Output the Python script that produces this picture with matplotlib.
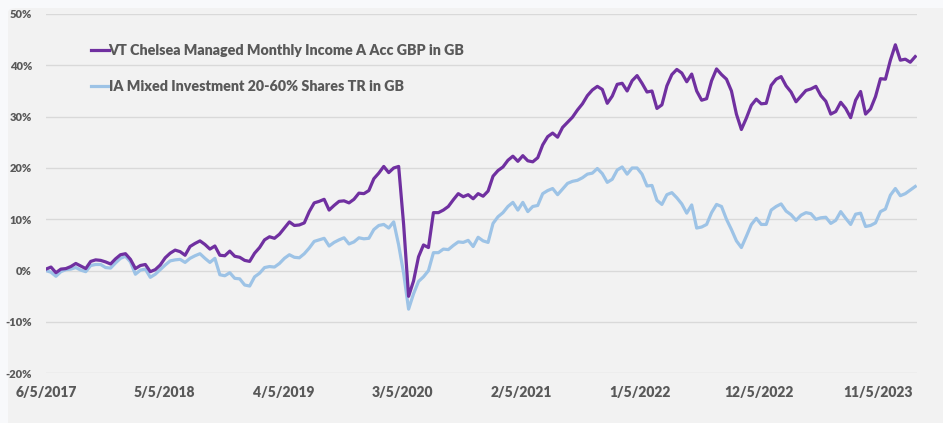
import matplotlib
matplotlib.use("Agg")
import matplotlib.pyplot as plt
from matplotlib.patches import FancyBboxPatch
from matplotlib.font_manager import FontProperties
import pandas as pd

start_date = "2017-06-05"
series_names = ["VT Chelsea Managed Monthly Income A Acc GBP in GB",
                "IA Mixed Investment 20-60% Shares TR in GB"]

vt_chelsea = [
    0.3, 0.7, -0.4, 0.3, 0.4, 0.8, 1.4, 0.9, 0.4, 1.8,
    2.1, 2.0, 1.7, 1.3, 2.3, 3.1, 3.3, 2.2, 0.4, 1.0,
    1.2, -0.2, 0.2, 1.1, 2.5, 3.4, 4.0, 3.7, 3.0, 4.7,
    5.3, 5.8, 5.1, 4.2, 4.8, 3.0, 2.9, 3.8, 2.8, 2.6,
    2.0, 1.8, 3.4, 4.5, 6.0, 6.6, 6.3, 7.1, 8.3, 9.5,
    8.8, 8.9, 9.3, 11.5, 13.2, 13.5, 13.9, 11.8, 12.7, 13.5,
    13.6, 13.2, 13.9, 15.1, 15.0, 15.6, 17.9, 19.0, 20.3, 19.1,
    20.0, 20.3, 9.0, -5.0, -2.0, 2.7, 5.0, 4.5, 11.3, 11.3,
    11.8, 12.5, 13.8, 15.0, 14.4, 14.8, 14.0, 15.0, 14.5, 15.5,
    18.4, 19.5, 20.2, 21.5, 22.3, 21.3, 22.4, 21.4, 21.2, 22.0,
    24.5, 26.1, 26.8, 26.0, 27.9, 28.9, 29.9, 31.3, 32.5, 34.1,
    35.2, 35.9, 35.3, 32.6, 34.0, 36.3, 36.5, 35.0, 37.0, 38.0,
    36.5, 34.8, 35.0, 31.6, 32.3, 36.0, 38.2, 39.2, 38.5, 36.8,
    38.3, 35.0, 33.2, 33.5, 37.0, 39.3, 38.2, 37.3, 35.0, 30.5,
    27.5, 29.7, 32.2, 33.4, 32.5, 32.6, 36.1, 37.3, 37.8, 36.0,
    34.8, 32.9, 34.0, 35.1, 35.4, 35.9, 34.1, 33.0, 30.5, 31.0,
    32.8, 31.6, 29.8, 33.2, 34.9, 30.5, 31.5, 33.9, 37.4, 37.3,
    41.0, 44.0, 41.0, 41.2, 40.6, 41.7,
]

ia_mixed = [
    0.0, -0.3, -1.1, -0.2, 0.2, 0.3, 0.6, 0.1, -0.2, 1.0,
    1.2, 1.2, 0.6, 0.5, 1.5, 2.4, 2.8, 1.7, -0.7, 0.1,
    0.3, -1.3, -0.7, 0.2, 1.1, 1.9, 2.1, 2.2, 1.6, 2.4,
    2.9, 3.3, 2.4, 1.6, 2.4, -0.8, -1.0, -0.4, -1.5, -1.6,
    -2.8, -3.0, -1.2, -0.5, 0.6, 0.8, 0.7, 1.4, 2.4, 3.1,
    2.6, 2.5, 3.3, 4.4, 5.7, 6.0, 6.3, 4.8, 5.5, 6.0,
    6.4, 5.2, 5.6, 6.4, 6.2, 6.3, 8.0, 8.8, 9.0, 8.3,
    9.5, 5.0, -0.5, -7.5, -4.5, -2.1, -1.2, 0.0, 3.5, 3.5,
    4.2, 4.1, 4.9, 5.6, 5.5, 5.9, 4.7, 6.5, 5.8, 5.5,
    9.2, 10.5, 11.3, 12.5, 13.3, 11.8, 13.3, 11.5, 12.5, 12.7,
    15.0, 15.6, 16.0, 14.8, 15.9, 17.0, 17.4, 17.6, 18.1, 18.8,
    19.0, 19.9, 18.9, 17.2, 17.8, 19.6, 20.2, 18.8, 20.0, 20.0,
    18.8, 16.5, 16.6, 13.7, 12.9, 14.8, 15.2, 14.2, 13.0, 11.2,
    12.8, 8.3, 8.5, 9.0, 11.3, 12.9, 12.5, 10.0, 8.0, 5.8,
    4.5, 6.7, 9.0, 10.2, 9.0, 9.0, 11.8, 12.5, 13.0, 11.6,
    10.9, 9.8, 10.8, 11.3, 11.1, 10.0, 10.3, 10.4, 9.2, 9.8,
    11.5, 10.2, 9.0, 11.0, 11.2, 8.6, 8.8, 9.3, 11.5, 12.0,
    14.7, 16.0, 14.6, 15.0, 15.7, 16.4,
]

tick_dates = ["2017-06-05", "2018-05-05", "2019-04-05", "2020-03-05",
              "2021-02-05", "2022-01-05", "2022-12-05", "2023-11-05"]
tick_labels = ["6/5/2017", "5/5/2018", "4/5/2019", "3/5/2020",
               "2/5/2021", "1/5/2022", "12/5/2022", "11/5/2023"]
y_ticks = [-20, -10, 0, 10, 20, 30, 40, 50]
x_end = "2024-02-24"

dates = pd.date_range(start_date, periods=len(vt_chelsea), freq="14D")

TXT = "#595959"

fig = plt.figure(figsize=(9.43, 4.23), dpi=100, facecolor="#f8f9fb")
bg = FancyBboxPatch((8 / 943, -0.05), 1.2, 1.05 - 8 / 423,
                    boxstyle="round,pad=0,rounding_size=0.01",
                    transform=fig.transFigure, facecolor="#f2f2f2",
                    edgecolor="none", zorder=-10)
fig.patches.append(bg)

ax = fig.add_axes([46 / 943, 1 - 373.3 / 423, (917 - 46) / 943, (373.3 - 14) / 423])
ax.set_facecolor("none")

ax.plot(dates, vt_chelsea, color="#7030A0", lw=2.3, label=series_names[0], zorder=3,
        solid_joinstyle="round")
ax.plot(dates, ia_mixed, color="#9DC3E6", lw=2.3, label=series_names[1], zorder=2,
        solid_joinstyle="round")

ax.set_ylim(-20, 50)
ax.set_yticks(y_ticks)
ax.set_yticklabels([f"{v}%" for v in y_ticks], fontfamily="Lato", fontsize=8,
                   fontweight="heavy", color=TXT)
ax.set_xlim(pd.Timestamp(start_date), pd.Timestamp(x_end))
ax.set_xticks([pd.Timestamp(d) for d in tick_dates])
ax.set_xticklabels(tick_labels, fontfamily="Lato", fontsize=10, fontweight="heavy", color=TXT)
ax.tick_params(axis="both", length=0)
ax.tick_params(axis="y", pad=10)
ax.tick_params(axis="x", pad=9)
ax.grid(axis="y", color="#d9d9d9", lw=1)
ax.set_axisbelow(True)
for s in ax.spines.values():
    s.set_visible(False)

leg = ax.legend(loc="upper left", bbox_to_anchor=(39 / 871, 1 - 24 / 359),
                frameon=False, handlelength=1.25, handletextpad=0.0,
                labelspacing=1.62, borderaxespad=0,
                prop=FontProperties(family="Lato", size=10.3, weight="heavy"))
for t in leg.get_texts():
    t.set_color(TXT)

fig.savefig("out.png", dpi=100, facecolor=fig.get_facecolor())
